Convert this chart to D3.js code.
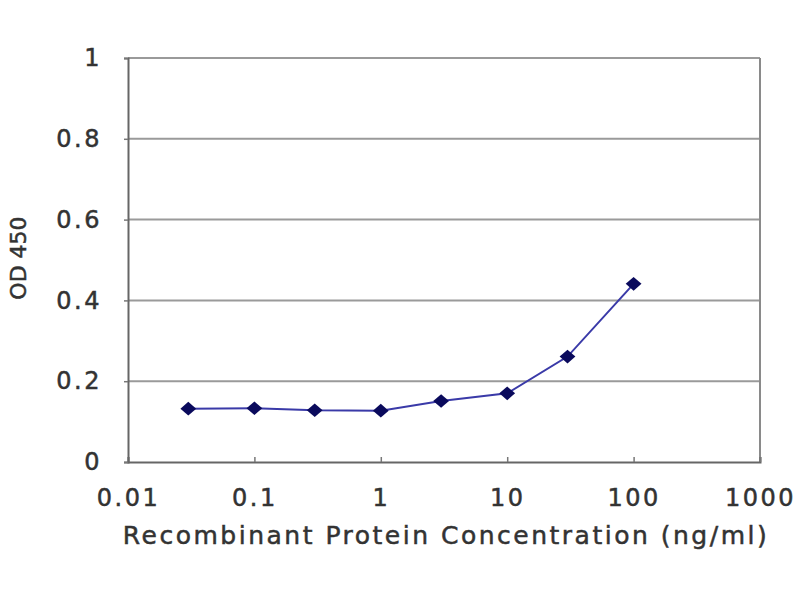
<!DOCTYPE html>
<html>
<head>
<meta charset="utf-8">
<script src="https://cdn.jsdelivr.net/npm/d3@7"></script>
<style>
  body { margin: 0; background: #fff; }
  text { font-family: "DejaVu Sans", "Liberation Sans", Arial, sans-serif; fill: #333; }
</style>
</head>
<body>
<div id="vis"></div>
<script>
const concentrations = [0.03, 0.1, 0.3, 1, 3, 10, 30, 100];
const odValues = [0.132, 0.133, 0.128, 0.127, 0.151, 0.170, 0.261, 0.441];
const xTicks = [0.01, 0.1, 1, 10, 100, 1000];
const yTicks = [0, 0.2, 0.4, 0.6, 0.8, 1];

const margin = { top: 58, right: 40, bottom: 138, left: 128 };
const width = 800 - margin.left - margin.right;
const height = 600 - margin.top - margin.bottom;

const svg = d3.select("#vis")
    .append("svg")
    .attr("width", 800)
    .attr("height", 600)
    .append("g")
    .attr("transform", `translate(${margin.left},${margin.top})`);

const xScale = d3.scaleLog()
    .domain([0.01, 1000])
    .range([0, width]);

const yScale = d3.scaleLinear()
    .domain([0, 1])
    .range([height, 0]);

// horizontal gridlines
svg.selectAll(".grid")
    .data(yTicks.filter(d => d > 0))
    .enter()
    .append("line")
    .attr("class", "grid")
    .attr("x1", 0)
    .attr("x2", width)
    .attr("y1", d => yScale(d))
    .attr("y2", d => yScale(d))
    .style("stroke", "#9a9a9a")
    .style("stroke-width", 2);

// right border
svg.append("line")
    .attr("x1", width).attr("x2", width)
    .attr("y1", 0).attr("y2", height)
    .style("stroke", "#8a8a8a")
    .style("stroke-width", 2);

const xAxis = d3.axisBottom(xScale)
    .tickValues(xTicks)
    .tickSize(-5)
    .tickPadding(27)
    .tickFormat(d => String(d));

const yAxis = d3.axisLeft(yScale)
    .tickValues(yTicks)
    .tickSize(4)
    .tickPadding(22)
    .tickFormat(d => String(d));

const xAxisGroup = svg.append("g")
    .attr("transform", `translate(0,${height})`)
    .call(xAxis);

const yAxisGroup = svg.append("g")
    .call(yAxis);

[xAxisGroup, yAxisGroup].forEach(g => {
    g.select(".domain").style("stroke", "#666").style("stroke-width", 2);
    g.selectAll(".tick line").style("stroke", "#777").style("stroke-width", 1.5);
    g.selectAll("text")
        .style("font-size", "24px")
        .style("letter-spacing", "2.5px")
        .style("fill", "#333")
        .style("stroke", "#333")
        .style("stroke-width", 0.5);
});

svg.append("text")
    .attr("x", 318)
    .attr("y", height + 82)
    .attr("text-anchor", "middle")
    .style("font-size", "25px")
    .style("letter-spacing", "2.5px")
    .style("stroke", "#333")
    .style("stroke-width", 0.5)
    .text("Recombinant Protein Concentration (ng/ml)");

svg.append("text")
    .attr("transform", "rotate(-90)")
    .attr("x", -(258 - margin.top))
    .attr("y", -margin.left + 26)
    .attr("text-anchor", "middle")
    .style("font-size", "22px")
    .style("stroke", "#333")
    .style("stroke-width", 0.5)
    .text("OD 450");

const points = concentrations.map((c, i) => ({ conc: c, od: odValues[i] }));

const line = d3.line()
    .x(d => xScale(d.conc))
    .y(d => yScale(d.od));

svg.append("path")
    .datum(points)
    .attr("d", line)
    .style("fill", "none")
    .style("stroke", "#3a3aa8")
    .style("stroke-width", 2);

svg.selectAll(".marker")
    .data(points)
    .enter()
    .append("path")
    .attr("class", "marker")
    .attr("d", d3.symbol().type(d3.symbolDiamond).size(110))
    .attr("transform", d => `translate(${xScale(d.conc)},${yScale(d.od)}) scale(1.4,0.7)`)
    .style("fill", "#0a0a5c");
</script>
</body>
</html>
